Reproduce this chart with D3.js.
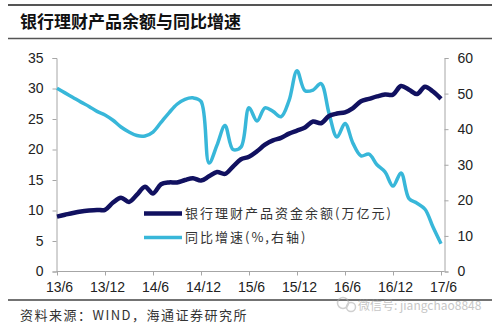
<!DOCTYPE html>
<html><head><meta charset="utf-8">
<script src="https://cdn.jsdelivr.net/npm/d3@7"></script>
<style>
body{margin:0;background:#fff;}
svg{display:block;}
</style></head>
<body>
<svg id="c" width="500" height="328"></svg>
<script>
const months = ["2013-06","2013-07","2013-08","2013-09","2013-10","2013-11","2013-12",
"2014-01","2014-02","2014-03","2014-04","2014-05","2014-06","2014-07","2014-08","2014-09","2014-10","2014-11","2014-12",
"2015-01","2015-02","2015-03","2015-04","2015-05","2015-06","2015-07","2015-08","2015-09","2015-10","2015-11","2015-12",
"2016-01","2016-02","2016-03","2016-04","2016-05","2016-06","2016-07","2016-08","2016-09","2016-10","2016-11","2016-12",
"2017-01","2017-02","2017-03","2017-04","2017-05","2017-06"];
const balance = [9.0,9.3,9.6,9.85,10.0,10.1,10.1,11.3,12.1,11.4,12.6,13.9,12.8,14.3,14.6,14.6,15.0,15.3,14.9,
15.6,16.3,16.0,17.2,18.4,18.8,19.7,20.8,21.5,21.9,22.6,23.1,23.6,24.6,24.3,25.5,25.9,26.1,26.8,27.9,28.3,28.7,
29.0,29.0,30.4,29.8,29.1,30.3,29.5,28.3];
const growth = [51.5,50.2,48.9,47.6,46.4,45.0,44.0,42.5,40.6,39.2,38.2,38.1,39.2,41.9,44.6,47.0,48.4,48.8,47.8,
30.5,35.5,41.0,34.3,35.0,46.0,42.3,46.0,45.0,43.5,48.0,56.4,50.8,51.0,52.8,44.5,37.8,41.6,36.0,32.5,33.0,30.0,
28.0,24.0,27.7,20.5,19.2,17.5,12.5,7.8];
const xTickLabels = ["13/6","13/12","14/6","14/12","15/6","15/12","16/6","16/12","17/6"];
const leftTicks = [0,5,10,15,20,25,30,35];
const rightTicks = [0,10,20,30,40,50,60];
const seriesNames = ["银行理财产品资金余额(万亿元)","同比增速(%,右轴)"];
const titleText = "银行理财产品余额与同比增速";
const sourceText = "资料来源：WIND，海通证券研究所";
const watermarkText = "微信号: jiangchao8848";

const svg = d3.select("#c");
const L = 56.5, R = 444.5, T = 58, B = 271.5;
const x = d3.scaleLinear().domain([0, months.length - 1]).range([57, 441]);
const yL = d3.scaleLinear().domain([0, 35]).range([B, T]);
const yR = d3.scaleLinear().domain([0, 60]).range([B, T]);
const numFont = "'Liberation Sans', Arial, sans-serif";
const cjkFont = "'Noto Sans CJK SC', sans-serif";
const axisColor = "#a6a6a6";
const dark = "#111160", light = "#38b7d9";

// header rules and title
svg.append("line").attr("x1", 8).attr("x2", 492).attr("y1", 5).attr("y2", 5).attr("stroke", "#555").attr("stroke-width", 2);
svg.append("line").attr("x1", 8).attr("x2", 492).attr("y1", 38.5).attr("y2", 38.5).attr("stroke", "#555").attr("stroke-width", 1.5);
svg.append("text").attr("x", 20).attr("y", 28).attr("font-family", cjkFont).attr("font-weight", 700)
  .attr("font-size", 17).attr("fill", "#111").text(titleText);

// axes
const gL = svg.append("g").attr("transform", `translate(${L},0)`)
  .call(d3.axisLeft(yL).tickValues(leftTicks).tickSize(4).tickPadding(9));
const gR = svg.append("g").attr("transform", `translate(${R},0)`)
  .call(d3.axisRight(yR).tickValues(rightTicks).tickSize(4).tickPadding(9));
const tickIdx = xTickLabels.map((d, i) => i * 6);
const gX = svg.append("g").attr("transform", `translate(0,${B})`)
  .call(d3.axisBottom(x).tickValues(tickIdx).tickFormat((d, i) => xTickLabels[i]).tickSize(4).tickPadding(7).tickSizeOuter(0));
gX.select(".domain").attr("d", `M${L},0H${R}`);
[gL, gR, gX].forEach(g => {
  g.selectAll(".domain").attr("stroke", axisColor);
  g.selectAll(".tick line").attr("stroke", axisColor);
  g.selectAll("text").attr("font-family", numFont).attr("font-size", 14).attr("fill", "#222");
});
gX.selectAll(".tick text").attr("dx", 2);

// lines
const lineL = d3.line().x((d, i) => x(i)).y(d => yL(d)).curve(d3.curveCatmullRom.alpha(0.5));
const lineR = d3.line().x((d, i) => x(i)).y(d => yR(d)).curve(d3.curveCatmullRom.alpha(0.5));
svg.append("path").datum(growth).attr("d", lineR).attr("fill", "none").attr("stroke", light)
  .attr("stroke-width", 3.5).attr("stroke-linejoin", "round");
svg.append("path").datum(balance).attr("d", lineL).attr("fill", "none").attr("stroke", dark)
  .attr("stroke-width", 4.5).attr("stroke-linejoin", "round");

// legend
const leg = svg.append("g");
[[dark, 213.5, 4.5], [light, 237.5, 3.5]].forEach((s, i) => {
  leg.append("line").attr("x1", 144).attr("x2", 182).attr("y1", s[1]).attr("y2", s[1])
    .attr("stroke", s[0]).attr("stroke-width", s[2]);
  leg.append("text").attr("x", 185).attr("y", s[1] + 4.5).attr("font-family", cjkFont)
    .attr("font-size", 13).attr("letter-spacing", 2).attr("fill", "#333").text(seriesNames[i]);
});

// footer
svg.append("line").attr("x1", 8).attr("x2", 492).attr("y1", 300).attr("y2", 300).attr("stroke", "#444").attr("stroke-width", 1.5);
svg.append("text").attr("x", 20).attr("y", 320).attr("font-family", cjkFont).attr("font-size", 13)
  .attr("letter-spacing", 1.5).attr("fill", "#333").text(sourceText);
const wm = svg.append("g").attr("opacity", 0.55);
wm.append("circle").attr("cx", 343).attr("cy", 303).attr("r", 5.5).attr("fill", "none").attr("stroke", "#aaa").attr("stroke-width", 1.5);
wm.append("circle").attr("cx", 351).attr("cy", 307).attr("r", 4.5).attr("fill", "none").attr("stroke", "#aaa").attr("stroke-width", 1.5);
wm.append("text").attr("x", 358).attr("y", 310).attr("font-family", cjkFont).attr("font-size", 12)
  .attr("fill", "#999").text(watermarkText);
</script>
</body></html>
